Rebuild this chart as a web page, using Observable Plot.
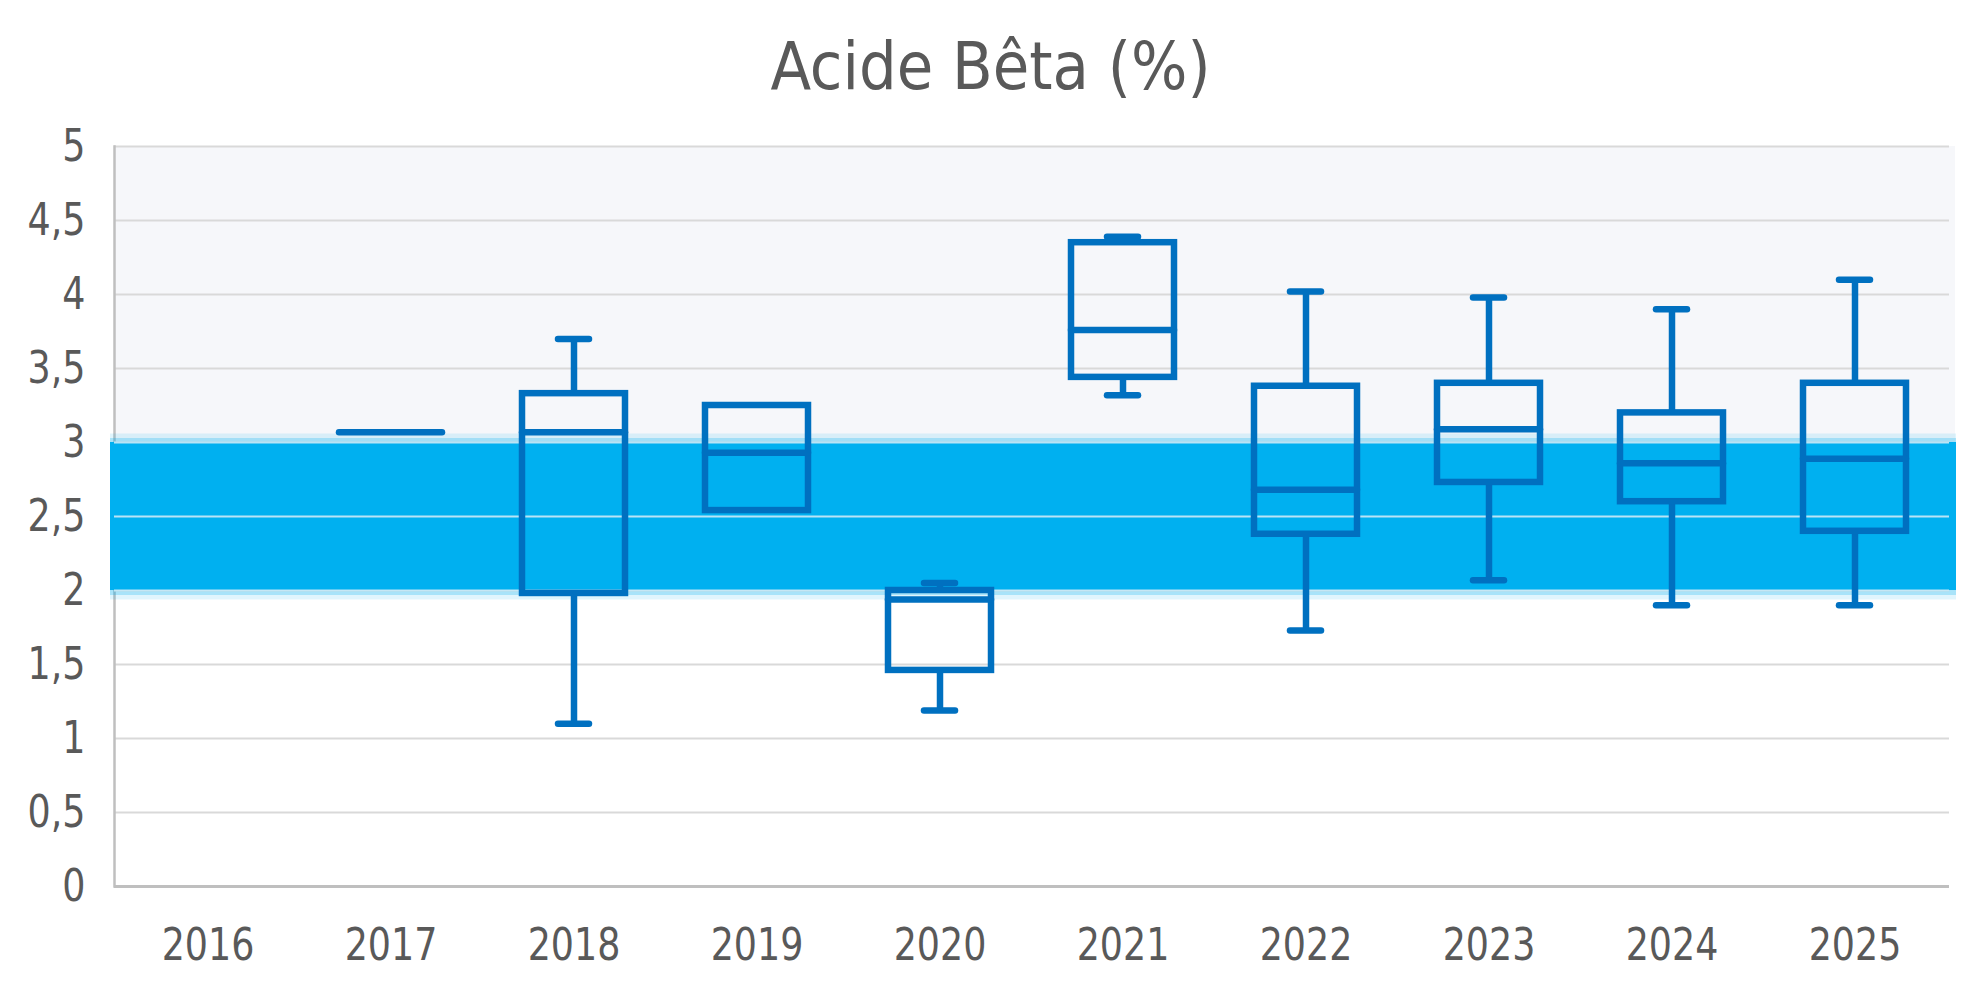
<!DOCTYPE html>
<html><head><meta charset="utf-8">
<script src="https://cdn.jsdelivr.net/npm/d3@7"></script>
<script src="https://cdn.jsdelivr.net/npm/@observablehq/plot@0.6"></script>
<style>
body{margin:0;background:#fff;width:1981px;height:995px;overflow:hidden}
#title{font-family:"DejaVu Sans Condensed","DejaVu Sans",sans-serif;font-stretch:condensed;font-size:66px;line-height:66px;color:#595959;text-align:center;padding-top:34px;height:76px;width:1981px;box-sizing:content-box}
</style></head><body>
<div id="title">Acide Bêta (%)</div>
<div id="chart"></div>
<script>
const years   = ["2016","2017","2018","2019","2020","2021","2022","2023","2024","2025"];
const mins    = [null, 3.07, 1.10, 2.54, 1.19, 3.32, 1.73, 2.07, 1.90, 1.90];
const q1s     = [null, 3.07, 1.98, 2.54, 1.46, 3.44, 2.38, 2.73, 2.60, 2.40];
const medians = [null, 3.07, 3.07, 2.93, 1.94, 3.76, 2.68, 3.09, 2.86, 2.89];
const q3s     = [null, 3.07, 3.33, 3.25, 2.00, 4.35, 3.38, 3.40, 3.20, 3.40];
const maxs    = [null, 3.07, 3.70, 3.25, 2.05, 4.39, 4.02, 3.98, 3.90, 4.10];
const yTicks  = [0, 0.5, 1, 1.5, 2, 2.5, 3, 3.5, 4, 4.5, 5];
const targetBand = [2, 3];
const upperZone  = [3, 5];

const rows = years.map((year, i) => ({year, min: mins[i], q1: q1s[i], median: medians[i], q3: q3s[i], max: maxs[i]}))
  .filter(d => d.median != null);
const lowerW = rows.filter(d => d.min < d.q1);
const upperW = rows.filter(d => d.max > d.q3);
const boxes = rows.filter(d => d.q3 > d.q1);
const fmt = d => String(d).replace(".", ",");
const BLUE = "#0070C0", BAND = "#00B0F0";
const band = [{y1: targetBand[0], y2: targetBand[1]}];
const zone = [{y1: upperZone[0], y2: upperZone[1]}];

const chart = Plot.plot({
  width: 1981, height: 885,
  marginTop: 36, marginBottom: 109, marginLeft: 114, marginRight: 32,
  style: {fontFamily: '"DejaVu Sans Condensed","DejaVu Sans",sans-serif', fontStretch: "condensed", fontSize: "45px", color: "#595959", background: "white", overflow: "visible"},
  x: {domain: years, paddingInner: 0.435, paddingOuter: 0.2175, label: null},
  y: {domain: [0, 5], label: null},
  marks: [
    Plot.rect(zone, {y1: "y1", y2: "y2", fill: "#f6f7fa", insetRight: -6}),
    Plot.ruleY(yTicks, {stroke: "#d9d9d9", strokeWidth: 2}),
    Plot.ruleY([0], {stroke: "#bfbfbf", strokeWidth: 3}),
    Plot.frame({anchor: "left", stroke: "#bfbfbf", strokeWidth: 2.5}),
    Plot.ruleY(targetBand, {stroke: BAND, strokeOpacity: 0.12, strokeWidth: 18, insetLeft: -4, insetRight: -7}),
    Plot.ruleY(targetBand, {stroke: BAND, strokeOpacity: 0.25, strokeWidth: 9, insetLeft: -4, insetRight: -7}),
    Plot.rect(band, {y1: "y1", y2: "y2", fill: BAND, insetLeft: -4, insetRight: -7}),
    Plot.ruleY(yTicks.filter(t => t >= targetBand[0] && t <= targetBand[1]), {stroke: "#cdeaf6", strokeWidth: 2, strokeOpacity: 0.9}),
    Plot.ruleX(lowerW, {x: "year", y1: "min", y2: "q1", stroke: BLUE, strokeWidth: 6.5}),
    Plot.ruleX(upperW, {x: "year", y1: "q3", y2: "max", stroke: BLUE, strokeWidth: 6.5}),
    Plot.tickY(lowerW, {x: "year", y: "min", stroke: BLUE, strokeWidth: 6.5, strokeLinecap: "round", inset: 36}),
    Plot.tickY(upperW, {x: "year", y: "max", stroke: BLUE, strokeWidth: 6.5, strokeLinecap: "round", inset: 36}),
    Plot.barY(boxes, {x: "year", y1: "q1", y2: "q3", fill: "none", stroke: BLUE, strokeWidth: 6.5}),
    Plot.tickY(rows, {x: "year", y: "median", stroke: BLUE, strokeWidth: 6.5, strokeLinecap: "round"}),
    Plot.axisX({tickSize: 0, tickPadding: 42, fontSize: 45, label: null}),
    Plot.axisY({ticks: yTicks, tickFormat: fmt, tickSize: 0, tickPadding: 29, fontSize: 45, label: null})
  ]
});
// narrow the tick labels horizontally to match the original typeface proportions
chart.querySelectorAll('g[aria-label="x-axis tick label"] text, g[aria-label="y-axis tick label"] text').forEach(t => {
  const tr = t.getAttribute("transform") || "";
  t.setAttribute("transform", tr + " scale(0.9,1)");
});
document.getElementById("chart").appendChild(chart);
</script>
</body></html>
